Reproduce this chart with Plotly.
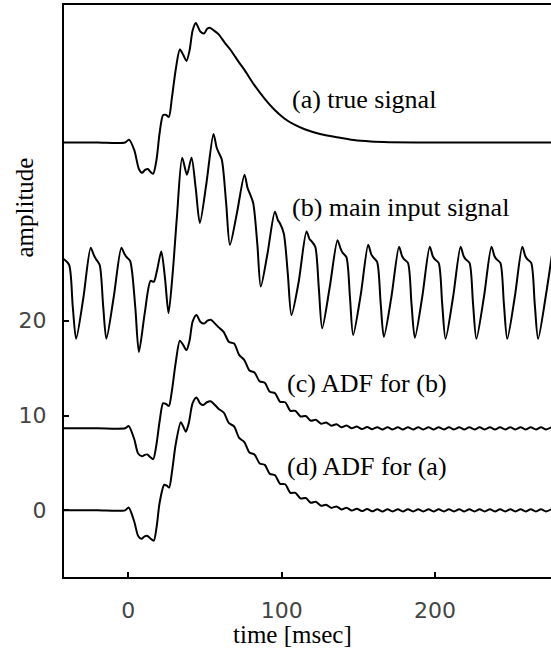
import plotly.graph_objects as go

# ---------------- data ----------------
# (a) true signal
a_t = [-42, -20, -2, 0.5, 4, 7, 9, 11, 12.8, 14.5, 16.3, 18.5, 20.5, 22.8, 24.8, 26.5,
       28.5, 31, 33.7, 36, 38, 40, 42, 44.1, 47, 49.5, 51.5, 53.2, 56, 59, 63, 67, 72,
       76, 82, 89, 95, 102, 108, 115, 125, 136, 147, 158, 170, 200, 276]
a_v = [38.8, 38.8, 38.8, 39.1, 38.0, 36.0, 35.6, 35.9, 36.0, 35.7, 35.5, 37.0, 39.8, 41.7,
       41.7, 41.5, 43.5, 46.5, 48.6, 48.0, 47.4, 48.5, 50.6, 51.4, 50.5, 50.3, 50.8, 50.9,
       50.6, 50.2, 49.3, 48.5, 47.3, 46.4, 44.9, 43.4, 42.3, 41.3, 40.7, 40.2, 39.7, 39.35,
       39.05, 38.9, 38.83, 38.8, 38.8]

# (b) main input signal
b_t = [-42.0, -38.5, -36.1, -33.9, -29.2, -24.4, -22.3, -21.0, -18.6, -16.3, -14.2, -9.4,
       -4.4, -2.3, -1.0, 1.3, 4.6, 7.0, 10.8, 14.6, 16.7, 18.8, 21.6, 24.0, 26.3, 29.0,
       31.8, 35.2, 38.3, 41.3, 44.0, 46.7, 51.0, 55.6, 57.6, 58.8, 61.0, 63.8, 66.3, 70.8,
       75.8, 77.8, 79.3, 81.5, 84.2, 86.4, 90.6, 95.6, 97.6, 98.8, 101.4, 104.0, 106.4,
       111.0, 116.2, 118.2, 119.4, 121.9, 124.2, 126.4, 131.3, 136.4, 138.4, 139.6, 142.2,
       144.5, 146.6, 151.5, 156.4, 158.4, 159.6, 162.2, 164.5, 166.6, 171.5, 176.5, 178.5,
       179.7, 182.3, 184.6, 186.8, 191.6, 196.5, 198.5, 199.7, 202.3, 204.6, 206.8, 211.7,
       216.6, 218.6, 219.8, 222.4, 224.7, 226.9, 231.8, 236.7, 238.7, 239.9, 242.5, 244.8,
       247.0, 251.9, 256.8, 258.8, 260.0, 262.6, 264.9, 267.1, 272.0, 276.9]
b_v = [26.5, 25.9, 21.5, 18.1, 22.4, 27.7, 26.9, 26.5, 25.9, 21.6, 18.1, 22.5,
       27.7, 27.0, 26.7, 26.3, 21.5, 16.7, 20.8, 24.2, 24.1, 25.3, 27.3, 24.5, 20.8, 25.0,
       31.0, 37.2, 35.4, 37.2, 34.0, 30.3, 34.5, 39.7, 38.3, 37.8, 37.0, 32.5, 28.0, 31.3,
       35.4, 34.0, 33.4, 32.4, 28.0, 23.6, 26.9, 31.5, 30.6, 30.3, 29.2, 25.0, 20.6,
       24.0, 29.4, 28.6, 28.4, 27.8, 23.5, 19.2, 23.5, 28.5, 27.6, 27.2, 26.7,
       22.5, 18.5, 22.7, 28.0, 27.0, 26.7, 26.2, 21.9, 18.3, 22.5, 27.8, 26.8,
       26.5, 26.1, 21.8, 18.2, 22.5, 27.8, 26.8, 26.5, 26.1, 21.8, 18.1, 22.5,
       27.8, 26.8, 26.5, 26.1, 21.8, 18.1, 22.5, 27.8, 26.8, 26.5, 26.1, 21.8,
       18.1, 22.5, 27.8, 26.8, 26.5, 26.1, 21.8, 18.1, 22.5, 27.8]

# (c) ADF output for (b)
c_t = [-42, -20, -2, 0.3, 4, 6.5, 9.1, 10.8, 12.4, 14.5, 16.3, 18.3, 20.5, 22.8, 24.8, 26.5,
       28.5, 31, 33.7, 36, 38, 40, 42, 44.5, 47, 49.5, 51.7, 53.9, 56, 59, 62.3, 65.7, 69,
       72.3, 75.7, 79, 82.3, 85.7, 89, 92.3, 95.7, 99, 102.3, 105.7, 109, 112.3, 115.7, 119,
       122.3, 125.7, 129, 132.3, 135.7, 139, 142.3, 145.7, 149, 152.3, 155.7, 159, 162.3,
       165.7, 169, 172.3, 175.7, 179, 182.3, 185.7, 189, 192.3, 195.7, 199, 202.3, 205.7,
       209, 212.3, 215.7, 219, 222.3, 225.7, 229, 232.3, 235.7, 239, 242.3, 245.7, 249,
       252.3, 255.7, 259, 262.3, 265.7, 269, 272.3, 275.7]
c_v = [8.65, 8.65, 8.65, 8.9, 7.5, 6.0, 5.7, 5.85, 5.9, 5.6, 5.4, 6.8, 9.4, 11.3, 11.2, 11.0,
       12.6, 15.6, 17.9, 17.4, 16.9, 17.9, 19.9, 20.6, 19.9, 19.7, 20.0, 20.1, 19.8, 19.3,
       18.8, 17.75, 17.6, 16.4, 15.85, 14.75, 14.55, 13.6, 13.45, 12.5, 12.35, 11.45, 11.4,
       10.5, 10.5, 9.9, 9.95, 9.45, 9.55, 9.14, 9.27, 8.93, 9.08, 8.77, 8.94, 8.65, 8.84,
       8.57, 8.79, 8.55, 8.77, 8.54, 8.76, 8.54, 8.76, 8.54, 8.76, 8.54, 8.76, 8.54, 8.76,
       8.54, 8.76, 8.54, 8.76, 8.54, 8.76, 8.54, 8.76, 8.54, 8.76, 8.54, 8.76, 8.54, 8.76,
       8.54, 8.76, 8.54, 8.76, 8.54, 8.76, 8.54, 8.76, 8.54, 8.76]

# (d) ADF output for (a)
d_t = [-42, -20, -2, 0.3, 4, 6.5, 8.7, 10.7, 12.6, 14.7, 16.7, 18.5, 20.5, 23.5, 25.2, 26.7,
       28.5, 31, 34.3, 36, 37.6, 39.5, 42, 44.5, 46.8, 48.9, 51.3, 53.7, 56, 59, 62.3, 65.7,
       69, 72.3, 75.7, 79, 82.3, 85.7, 89, 92.3, 95.7, 99, 102.3, 105.7, 109, 112.3, 115.7,
       119, 122.3, 125.7, 129, 132.3, 135.7, 139, 142.3, 145.7, 149, 152.3, 155.7, 159,
       162.3, 165.7, 169, 172.3, 175.7, 179, 182.3, 185.7, 189, 192.3, 195.7, 199, 202.3,
       205.7, 209, 212.3, 215.7, 219, 222.3, 225.7, 229, 232.3, 235.7, 239, 242.3, 245.7,
       249, 252.3, 255.7, 259, 262.3, 265.7, 269, 272.3, 275.7]
d_v = [0, 0, 0, 0.3, -1.2, -2.7, -3.0, -2.75, -2.7, -3.0, -3.2, -1.8, 0.8, 2.7, 2.6, 2.4,
       4.0, 7.0, 9.3, 8.8, 8.3, 9.2, 11.3, 11.9, 11.3, 11.1, 11.4, 11.5, 11.2, 10.7, 10.3,
       9.2, 8.85, 7.65, 7.2, 6.1, 5.9, 4.95, 4.8, 3.85, 3.7, 2.8, 2.75, 1.85, 1.85, 1.25,
       1.3, 0.8, 0.9, 0.48, 0.6, 0.26, 0.41, 0.1, 0.27, -0.02, 0.18, -0.08, 0.14, -0.1,
       0.12, -0.11, 0.11, -0.11, 0.11, -0.11, 0.11, -0.11, 0.11, -0.11, 0.11, -0.11, 0.11,
       -0.11, 0.11, -0.11, 0.11, -0.11, 0.11, -0.11, 0.11, -0.11, 0.11, -0.11, 0.11, -0.11,
       0.11, -0.11, 0.11, -0.11, 0.11, -0.11, 0.11, -0.11, 0.11]

labels = ["(a) true signal", "(b) main input signal", "(c) ADF for (b)", "(d) ADF for (a)"]
label_x = [105.6, 105.6, 102.2, 102.2]
label_y = [43.3, 31.9, 13.4, 4.6]

x_ticks = [0, 100, 200]
y_ticks = [0, 10, 20]

# ---------------- figure ----------------
SERIF = "Liberation Serif"
SANS = "DejaVu Sans"

fig = go.Figure()
for t, v in [(a_t, a_v), (b_t, b_v), (c_t, c_v), (d_t, d_v)]:
    fig.add_trace(go.Scatter(x=t, y=v, mode="lines",
                             line=dict(color="black", width=2, shape="spline", smoothing=0.75),
                             hoverinfo="skip"))

for txt, lx, ly in zip(labels, label_x, label_y):
    fig.add_annotation(x=lx, y=ly, xref="x", yref="y", text=txt, showarrow=False,
                       xanchor="left", yanchor="middle",
                       font=dict(family=SERIF, size=26, color="black"))

fig.add_annotation(x=0.469, y=-0.101, xref="paper", yref="paper", text="time [msec]",
                   showarrow=False, xanchor="center", yanchor="middle",
                   font=dict(family=SERIF, size=25, color="black"))
fig.add_annotation(x=-0.082, y=0.646, xref="paper", yref="paper", text="amplitude",
                   showarrow=False, xanchor="center", yanchor="middle", textangle=-90,
                   font=dict(family=SERIF, size=25, color="black"))

fig.update_layout(
    width=551, height=652,
    margin=dict(l=64, r=0, t=5, b=75),
    plot_bgcolor="white", paper_bgcolor="white",
    showlegend=False,
    xaxis=dict(range=[-41.8, 275.5], showline=True, linecolor="black", linewidth=2,
               mirror=True, ticks="inside", ticklen=5, tickwidth=2, tickcolor="black",
               tickvals=x_ticks, showgrid=False, zeroline=False,
               ticklabelstandoff=13,
               tickfont=dict(family=SANS, size=22, color="#444")),
    yaxis=dict(range=[-7.03, 53.3], showline=True, linecolor="black", linewidth=2,
               ticks="inside", ticklen=5, tickwidth=2, tickcolor="black",
               tickvals=y_ticks, showgrid=False, zeroline=False,
               ticklabelstandoff=11,
               tickfont=dict(family=SANS, size=22, color="#444")),
)

fig.write_html("out.html")
